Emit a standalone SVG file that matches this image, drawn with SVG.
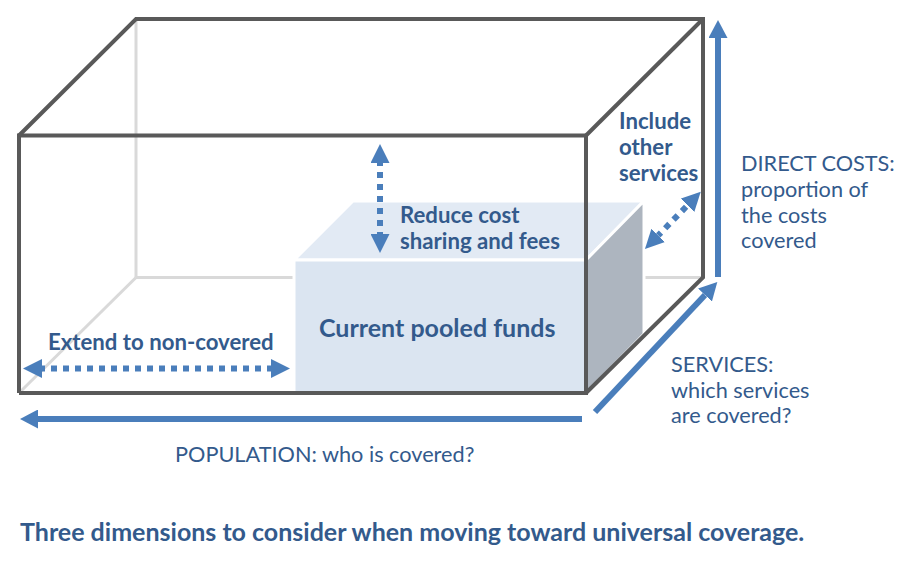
<svg xmlns="http://www.w3.org/2000/svg" width="914" height="561" viewBox="0 0 914 561">
<style>
.edge{fill:none;stroke:#595959;stroke-width:4;stroke-linejoin:miter}
.hidden{fill:none;stroke:#d9d9d9;stroke-width:3}
.face{stroke:#ffffff;stroke-width:3;stroke-linejoin:miter}
.solid{fill:none;stroke:#4a7ebb;stroke-width:6}
.dot{fill:none;stroke:#4a7ebb;stroke-width:6;stroke-dasharray:6 6}
.b{font-family:Lato,"Liberation Sans",sans-serif;font-weight:bold;fill:#335a8c;font-size:22.2px}
.r{font-family:Lato,"Liberation Sans",sans-serif;font-weight:normal;fill:#335a8c;font-size:21.7px}
</style>
<defs>
<marker id="head" markerUnits="userSpaceOnUse" markerWidth="18" markerHeight="19" refX="0" refY="9.5" orient="auto">
<path d="M0,0 L18,9.5 L0,19 z" fill="#4a7ebb"/>
</marker>
<marker id="dhead" markerUnits="userSpaceOnUse" markerWidth="19" markerHeight="19" refX="0" refY="9.5" orient="auto-start-reverse">
<path d="M0,0 L19,9.5 L0,19 z" fill="#4a7ebb"/>
</marker>
</defs>
<rect width="914" height="561" fill="#ffffff"/>
<g id="box-hidden">
<line class="hidden" x1="136" y1="19" x2="136" y2="277.5"/>
<line class="hidden" x1="136" y1="277.5" x2="704" y2="277.5"/>
<line class="hidden" x1="136" y1="277.5" x2="19" y2="393"/>
</g>
<g id="pooled-funds">
<polygon class="face" points="294,260 353,201 644,201 586,260" fill="#e2eaf4"/>
<polygon class="face" points="586,260 644,201 644,334 586,393" fill="#adb5bf"/>
<rect class="face" x="294" y="260" width="292" height="133" fill="#dbe5f1"/>
<text class="b" x="319" y="337" style="font-size:25px">Current pooled funds</text>
</g>
<g id="box-edges">
<polyline class="edge" points="19,393 19,135.5 586,135.5 586,393 19,393"/>
<polyline class="edge" points="19,135.5 136,19 703,19 703,277.5 586,393"/>
<line class="edge" x1="586" y1="135.5" x2="703" y2="19"/>
</g>
<g id="connectors">
<line class="solid" x1="718" y1="277" x2="718" y2="38" marker-end="url(#head)"/>
<line class="solid" x1="582" y1="419" x2="38" y2="419" marker-end="url(#head)"/>
<line class="solid" x1="595" y1="412" x2="705" y2="295" marker-end="url(#head)"/>
<line class="dot" x1="380" y1="163" x2="380" y2="234" stroke-dashoffset="3" marker-start="url(#dhead)" marker-end="url(#dhead)"/>
<line class="dot" x1="42" y1="368.5" x2="271" y2="368.5" stroke-dashoffset="3" marker-start="url(#dhead)" marker-end="url(#dhead)"/>
<line class="dot" x1="658.2" y1="235.4" x2="687.5" y2="205.3" stroke-dashoffset="2" marker-start="url(#dhead)" marker-end="url(#dhead)"/>
</g>
<g id="label-reduce">
<text class="b" x="400" y="223">Reduce cost</text>
<text class="b" x="400" y="249">sharing and fees</text>
</g>
<g id="label-include">
<text class="b" x="619" y="129">Include</text>
<text class="b" x="619" y="155">other</text>
<text class="b" x="619" y="181">services</text>
</g>
<g id="label-extend">
<text class="b" x="48" y="350">Extend to non-covered</text>
</g>
<g id="label-direct">
<text class="r" x="741" y="171">DIRECT COSTS:</text>
<text class="r" x="741" y="197">proportion of</text>
<text class="r" x="741" y="222.5">the costs</text>
<text class="r" x="741" y="248">covered</text>
</g>
<g id="label-services">
<text class="r" x="671" y="372">SERVICES:</text>
<text class="r" x="671" y="397.5">which services</text>
<text class="r" x="671" y="423">are covered?</text>
</g>
<g id="label-population">
<text class="r" x="175" y="462">POPULATION: who is covered?</text>
</g>
<g id="caption">
<text class="b" x="20" y="541" style="font-size:25px">Three dimensions to consider when moving toward universal coverage.</text>
</g>
</svg>
